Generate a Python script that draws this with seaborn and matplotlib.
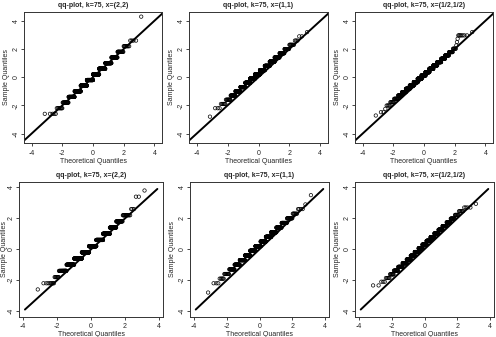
import numpy as np
import pandas as pd
import matplotlib
matplotlib.use("Agg")
import matplotlib.pyplot as plt
import seaborn as sns
from statistics import NormalDist

# sample values (discrete levels) and number of draws on each level, n = 600 per panel
# top row
levels_22_a = [-2.6, -2.2, -1.8, -1.4, -1.0, -0.6, -0.2, 0.2, 0.6, 1.0, 1.4, 1.8, 2.2, 2.6, 4.3]
counts_22_a = [5, 9, 19, 36, 58, 80, 93, 93, 80, 58, 36, 19, 9, 4, 1]

levels_11_a = [-2.8, -2.2, -1.9, -1.6, -1.3, -1.0, -0.7, -0.4, -0.1, 0.2,
               0.5, 0.8, 1.1, 1.4, 1.7, 2.0, 2.3, 2.6, 2.9, 3.2]
counts_11_a = [1, 3, 6, 11, 19, 32, 45, 59, 70, 76, 73, 65, 51, 37, 24, 14, 8, 3, 2, 1]

levels_hh_a = [-2.720, -2.483, -2.246, -2.009, -1.772, -1.535, -1.298, -1.061, -0.824,
               -0.587, -0.350, -0.113, 0.124, 0.361, 0.598, 0.835, 1.072, 1.309,
               1.546, 1.783, 2.020, 2.257, 2.494, 2.731, 2.968, 3.205]
counts_hh_a = [1, 2, 1, 4, 7, 12, 18, 26, 35, 45, 53, 58, 61, 59, 55, 46, 38, 28,
               20, 13, 7, 1, 1, 1, 7, 1]

# bottom row
levels_22_b = [-2.6, -2.2, -1.8, -1.4, -1.0, -0.6, -0.2, 0.2, 0.6, 1.0, 1.4, 1.8, 2.2, 2.6, 3.4, 3.8]
counts_22_b = [1, 8, 8, 27, 51, 80, 96, 100, 84, 64, 39, 23, 13, 3, 2, 1]

levels_11_b = [-2.8, -2.2, -1.9, -1.6, -1.3, -1.0, -0.7, -0.4, -0.1, 0.2,
               0.5, 0.8, 1.1, 1.4, 1.7, 2.0, 2.3, 2.6, 2.9, 3.5]
counts_11_b = [1, 3, 5, 10, 19, 30, 44, 59, 70, 76, 74, 66, 52, 38, 25, 15, 7, 4, 1, 1]

levels_hh_b = [-2.34, -2.10, -1.86, -1.62, -1.38, -1.14, -0.90, -0.66, -0.42, -0.18,
               0.06, 0.30, 0.54, 0.78, 1.02, 1.26, 1.50, 1.74, 1.98, 2.22, 2.46, 2.70, 2.94]
counts_hh_b = [2, 3, 5, 8, 14, 22, 29, 37, 45, 51, 55, 60, 56, 50, 46, 36, 28, 20,
               14, 8, 6, 4, 1]

titles = ["qq-plot, k=75, x=(2,2)", "qq-plot, k=75, x=(1,1)", "qq-plot, k=75, x=(1/2,1/2)"]
ticks = [-4, -2, 0, 2, 4]
line_top = [-4.6, 4.6]
line_bottom = [-3.9, 3.9]

sns.set_style("ticks")
plt.rcParams["font.family"] = ["Liberation Sans", "DejaVu Sans"]
plt.rcParams["font.size"] = 5

fig = plt.figure(figsize=(4.96, 3.37), dpi=100)

# axes boxes in pixels: left, top, right, bottom
boxes = [
    (24, 11.7, 162, 142.7), (189, 11.7, 328, 142.7), (355, 11.7, 493, 142.7),
    (19, 182, 163.3, 316.5), (190, 182, 329, 316.5), (355, 182, 494, 316.5),
]
data = [
    (levels_22_a, counts_22_a), (levels_11_a, counts_11_a), (levels_hh_a, counts_hh_a),
    (levels_22_b, counts_22_b), (levels_11_b, counts_11_b), (levels_hh_b, counts_hh_b),
]

W, H = 496, 337
for k, ((l, t, r, b), (levels, counts)) in enumerate(zip(boxes, data)):
    wpx, hpx = r - l, b - t
    ax = fig.add_axes([l / W, 1 - b / H, wpx / W, hpx / H])
    sample = np.sort(np.repeat(levels, counts))
    n = len(sample)
    theo = [NormalDist().inv_cdf((i + 0.5) / n) for i in range(n)]
    df = pd.DataFrame({"theo": theo, "sample": sample})

    top = k < 3
    span = line_top if top else line_bottom
    sns.lineplot(x=span, y=span, color="black", linewidth=1.4, ax=ax)
    sns.scatterplot(data=df, x="theo", y="sample", ax=ax, marker="o", s=6,
                    facecolor="none", edgecolor="black", linewidth=0.5)

    if top:
        ax.set_xlim(-4.5, 4.5)
        ax.set_ylim(-4.65, 4.65)
    else:
        ax.set_xlim(-4.25, 4.25)
        ax.set_ylim(-4.35, 4.35)
    ax.set_xticks(ticks)
    ax.set_yticks(ticks)
    ax.set_xticklabels([str(v) for v in ticks])
    ax.set_yticklabels([str(v) for v in ticks], rotation=90, va="center")
    ax.tick_params(length=2.5, width=0.6, labelsize=5)
    ax.tick_params(axis="x", pad=2.5)
    ax.tick_params(axis="y", pad=0.4)
    for sp in ax.spines.values():
        sp.set_linewidth(0.7)
        sp.set_color("#333333")
    ax.set_title(titles[k % 3], fontsize=5, fontweight="bold", pad=3.5)
    ax.set_xlabel("Theoretical Quantiles", fontsize=5)
    ax.set_ylabel("Sample Quantiles", fontsize=5)
    ax.xaxis.set_label_coords(0.5, -15 / hpx)
    ylab_gap = 10.5 if k == 3 else 14.3
    ax.yaxis.set_label_coords(-ylab_gap / wpx, 0.5)

fig.savefig("out.png", dpi=100)
